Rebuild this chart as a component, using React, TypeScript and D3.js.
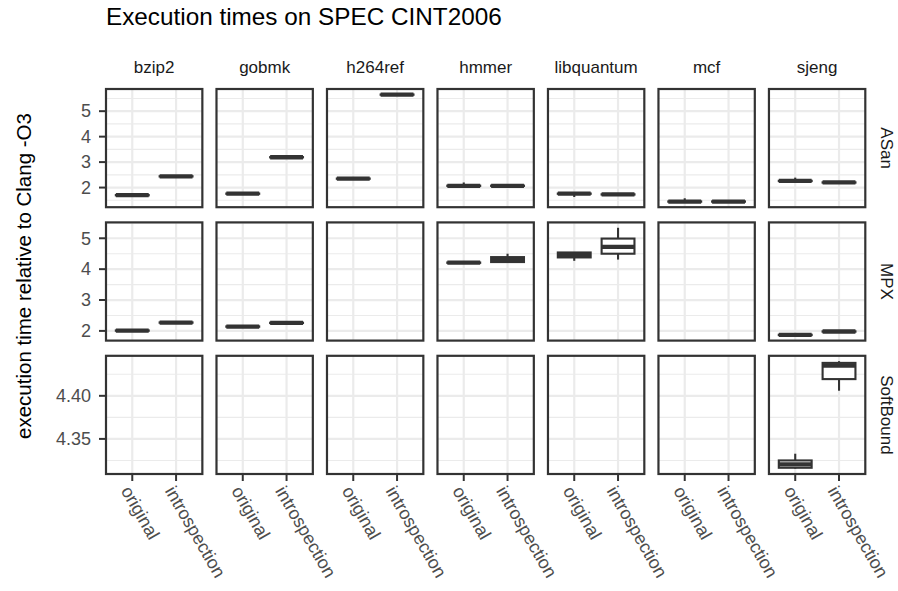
import * as d3 from 'd3';
import { useRef, useEffect } from 'react';

type Box = [number, number, number, number, number] | null;

const benchmarks = ['bzip2', 'gobmk', 'h264ref', 'hmmer', 'libquantum', 'mcf', 'sjeng'];
const tools = ['ASan', 'MPX', 'SoftBound'];
const variants = ['original', 'introspection'];

// five-number summaries [min, q1, median, q3, max], one per benchmark
const asanOriginal: Box[] = [
    [1.69, 1.695, 1.70, 1.705, 1.71],
    [1.75, 1.755, 1.76, 1.765, 1.77],
    [2.34, 2.345, 2.35, 2.355, 2.36],
    [2.06, 2.065, 2.07, 2.075, 2.20],
    [1.63, 1.755, 1.76, 1.765, 1.77],
    [1.44, 1.445, 1.45, 1.455, 1.58],
    [2.25, 2.255, 2.26, 2.265, 2.39],
];
const asanIntrospection: Box[] = [
    [2.43, 2.435, 2.44, 2.445, 2.45],
    [3.18, 3.185, 3.19, 3.195, 3.20],
    [5.64, 5.645, 5.65, 5.655, 5.66],
    [2.06, 2.065, 2.07, 2.075, 2.08],
    [1.72, 1.725, 1.73, 1.735, 1.74],
    [1.44, 1.445, 1.45, 1.455, 1.46],
    [2.19, 2.195, 2.20, 2.205, 2.21],
];
const mpxOriginal: Box[] = [
    [2.00, 2.005, 2.01, 2.015, 2.02],
    [2.13, 2.135, 2.14, 2.145, 2.15],
    null,
    [4.20, 4.205, 4.21, 4.215, 4.22],
    [4.27, 4.38, 4.46, 4.54, 4.54],
    null,
    [1.86, 1.865, 1.87, 1.875, 1.88],
];
const mpxIntrospection: Box[] = [
    [2.26, 2.265, 2.27, 2.275, 2.28],
    [2.20, 2.255, 2.26, 2.265, 2.27],
    null,
    [4.23, 4.23, 4.31, 4.39, 4.50],
    [4.31, 4.50, 4.72, 4.99, 5.34],
    null,
    [1.97, 1.975, 1.98, 1.985, 1.99],
];
const softboundOriginal: Box[] = [null, null, null, null, null, null,
    [4.3155, 4.3165, 4.3204, 4.325, 4.3328]];
const softboundIntrospection: Box[] = [null, null, null, null, null, null,
    [4.4059, 4.4194, 4.4351, 4.4382, 4.4402]];

const boxesByTool: Box[][][] = [
    [asanOriginal, asanIntrospection],
    [mpxOriginal, mpxIntrospection],
    [softboundOriginal, softboundIntrospection],
];

const yTicks = [[2, 3, 4, 5], [2, 3, 4, 5], [4.35, 4.40]];
const yFormats = ['d', 'd', '.2f'];

const App = () => {
    const svgRef = useRef<SVGSVGElement | null>(null);

    useEffect(() => {
        const width = 898;
        const height = 591;
        const font = '"Liberation Sans", Arial, Helvetica, sans-serif';
        const dark = '#333333';
        const grid = '#EBEBEB';

        d3.select(svgRef.current).selectAll('*').remove();
        const svg = d3.select(svgRef.current)
            .attr('width', width)
            .attr('height', height)
            .style('font-family', font);

        svg.append('rect').attr('width', width).attr('height', height).attr('fill', 'white');

        // panel grid
        const col = d3.scaleBand().domain(benchmarks).range([106, 865.3]).paddingInner(0.128);
        const row = d3.scaleBand().domain(tools).range([89, 474]).paddingInner(0.114);
        const pw = col.bandwidth();
        const ph = row.bandwidth();

        const x = d3.scalePoint().domain(variants).range([0, pw]).padding(0.6);
        const unit = x.step();
        const boxW = unit * 0.75;

        // title
        svg.append('text')
            .attr('x', 106).attr('y', 25)
            .attr('font-size', 24.3)
            .attr('fill', 'black')
            .text('Execution times on SPEC CINT2006');

        // y axis title
        svg.append('text')
            .attr('transform', 'translate(30.5,276) rotate(-90)')
            .attr('text-anchor', 'middle')
            .attr('font-size', 20.5)
            .attr('fill', 'black')
            .text('execution time relative to Clang -O3');

        // strip labels on top
        benchmarks.forEach(b => {
            svg.append('text')
                .attr('x', col(b)! + pw / 2).attr('y', 73)
                .attr('text-anchor', 'middle')
                .attr('font-size', 17)
                .attr('fill', '#1A1A1A')
                .text(b);
        });

        tools.forEach((tool, ti) => {
            const top = row(tool)!;
            const all = boxesByTool[ti].flat().filter(d => d) as [number, number, number, number, number][];
            const lo = d3.min(all, d => d[0])!;
            const hi = d3.max(all, d => d[4])!;
            const pad = (hi - lo) * 0.05;
            const y = d3.scaleLinear().domain([lo - pad, hi + pad]).range([ph, 0]);

            const majors = yTicks[ti];
            const step = majors[1] - majors[0];
            const minors: number[] = [];
            for (let k = -1; k < majors.length; k++) {
                const v = majors[0] + (k + 0.5) * step;
                if (v > y.domain()[0] && v < y.domain()[1]) minors.push(v);
            }

            // strip label on right
            svg.append('text')
                .attr('transform', `translate(881,${top + ph / 2}) rotate(90)`)
                .attr('text-anchor', 'middle')
                .attr('font-size', 17)
                .attr('fill', '#1A1A1A')
                .text(tool);

            // y axis on leftmost panel
            const ya = svg.append('g').attr('transform', `translate(106,${top})`);
            majors.forEach(t => {
                ya.append('line')
                    .attr('x1', -7).attr('x2', 0)
                    .attr('y1', y(t)).attr('y2', y(t))
                    .attr('stroke', dark).attr('stroke-width', 2);
                ya.append('text')
                    .attr('x', -15).attr('y', y(t))
                    .attr('dy', '0.35em')
                    .attr('text-anchor', 'end')
                    .attr('font-size', 18)
                    .attr('fill', '#4D4D4D')
                    .text(d3.format(yFormats[ti])(t));
            });

            benchmarks.forEach((b, bi) => {
                const g = svg.append('g').attr('transform', `translate(${col(b)},${top})`);
                g.append('rect').attr('width', pw).attr('height', ph).attr('fill', 'white');

                minors.forEach(v => {
                    g.append('line')
                        .attr('x1', 0).attr('x2', pw)
                        .attr('y1', y(v)).attr('y2', y(v))
                        .attr('stroke', grid).attr('stroke-width', 1.1);
                });
                majors.forEach(v => {
                    g.append('line')
                        .attr('x1', 0).attr('x2', pw)
                        .attr('y1', y(v)).attr('y2', y(v))
                        .attr('stroke', grid).attr('stroke-width', 2.2);
                });
                variants.forEach(v => {
                    g.append('line')
                        .attr('x1', x(v)!).attr('x2', x(v)!)
                        .attr('y1', 0).attr('y2', ph)
                        .attr('stroke', grid).attr('stroke-width', 2.2);
                });

                // boxplots
                variants.forEach((v, vi) => {
                    const s = boxesByTool[ti][vi][bi];
                    if (!s) return;
                    const cx = x(v)!;
                    const [mn, q1, md, q3, mx] = s;
                    g.append('line')
                        .attr('x1', cx).attr('x2', cx)
                        .attr('y1', y(q3)).attr('y2', y(mx))
                        .attr('stroke', dark).attr('stroke-width', 2.1);
                    g.append('line')
                        .attr('x1', cx).attr('x2', cx)
                        .attr('y1', y(q1)).attr('y2', y(mn))
                        .attr('stroke', dark).attr('stroke-width', 2.1);
                    g.append('rect')
                        .attr('x', cx - boxW / 2).attr('width', boxW)
                        .attr('y', y(q3)).attr('height', Math.max(0, y(q1) - y(q3)))
                        .attr('fill', 'white')
                        .attr('stroke', dark).attr('stroke-width', 2.1);
                    g.append('line')
                        .attr('x1', cx - boxW / 2).attr('x2', cx + boxW / 2)
                        .attr('y1', y(md)).attr('y2', y(md))
                        .attr('stroke', dark).attr('stroke-width', 4.3);
                });

                g.append('rect')
                    .attr('width', pw).attr('height', ph)
                    .attr('fill', 'none')
                    .attr('stroke', dark).attr('stroke-width', 2.2);

                // x axis on bottom row
                if (ti === tools.length - 1) {
                    variants.forEach(v => {
                        g.append('line')
                            .attr('x1', x(v)!).attr('x2', x(v)!)
                            .attr('y1', ph).attr('y2', ph + 7)
                            .attr('stroke', dark).attr('stroke-width', 2);
                        g.append('text')
                            .attr('transform', `translate(${x(v)},${ph + 10}) rotate(60)`)
                            .attr('dy', '0.75em')
                            .attr('font-size', 18)
                            .attr('fill', '#4D4D4D')
                            .text(v);
                    });
                }
            });
        });
    }, []);

    return (
        <svg ref={svgRef} style={{ position: 'absolute', left: 0, top: 0 }}></svg>
    );
};

export default App;
